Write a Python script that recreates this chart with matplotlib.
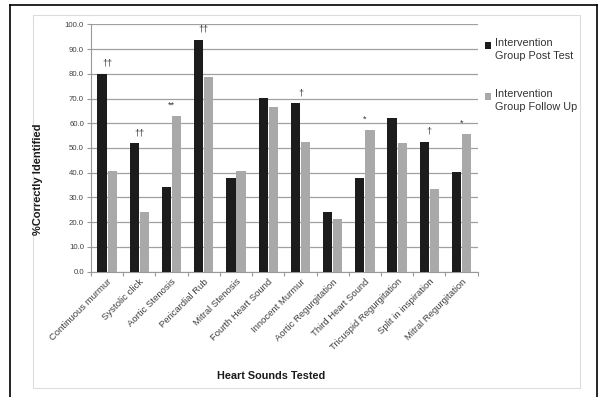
import matplotlib
matplotlib.use("Agg")
import matplotlib.pyplot as plt
from matplotlib.patches import Rectangle
from matplotlib.lines import Line2D
import numpy as np

categories = ["Continuous murmur", "Systolic click", "Aortic Stenosis", "Pericardial Rub",
              "Mitral Stenosis", "Fourth Heart Sound", "Innocent Murmur", "Aortic Regurgitation",
              "Third Heart Sound", "Tricuspid Regurgitation", "Split in inspiration",
              "Mitral Regurgitation"]
post_test = [79.9, 51.9, 34.3, 93.8, 37.8, 70.4, 68.1, 24.3, 37.8, 62.2, 52.6, 40.5]
follow_up = [40.7, 24.3, 63.0, 78.6, 40.7, 66.7, 52.6, 21.5, 57.3, 51.9, 33.3, 55.5]
markers = ["††", "††", "**", "††", "", "", "†", "", "*", "", "†", "*"]

series_names = ["Intervention\nGroup Post Test", "Intervention\nGroup Follow Up"]
colors = ["#1c1c1c", "#a9a9a9"]

plt.rcParams["font.family"] = ["Liberation Sans", "DejaVu Sans"]

fig = plt.figure(figsize=(5.98, 3.97), dpi=100)
W, H = 598, 397

# outer frame and chart-area border
fig.add_artist(Line2D([10 / W, 10 / W], [0, 1 - 5 / H], color="black", lw=1.2))
fig.add_artist(Line2D([10 / W, 597 / W], [1 - 5 / H, 1 - 5 / H], color="black", lw=1.2))
fig.add_artist(Line2D([597 / W, 597 / W], [0, 1 - 5 / H], color="black", lw=1.2))
fig.add_artist(Rectangle((33 / W, 1 - 388 / H), (580 - 33) / W, (388 - 15) / H,
                         fill=False, ec="#dcdcdc", lw=0.8))

ax = fig.add_axes([91 / W, 1 - 271.7 / H, (477.7 - 91) / W, (271.7 - 24.3) / H])

x = np.arange(len(categories))
bw = 0.285
ax.bar(x - bw / 2 - 0.015, post_test, width=bw, color=colors[0], zorder=3)
ax.bar(x + bw / 2 + 0.015, follow_up, width=bw, color=colors[1], zorder=3)

for xi, a, b, m in zip(x, post_test, follow_up, markers):
    if m:
        ax.text(xi, max(a, b) + 2.5, m, ha="center", va="bottom", fontsize=6.5, color="#333333")

ax.set_xlim(-0.5, len(categories) - 0.5)
ax.set_ylim(0, 100)
ax.set_yticks(np.arange(0, 101, 10))
ax.set_yticklabels([f"{v:.1f}" for v in np.arange(0, 101, 10)], fontsize=5.6, color="#404040")
ax.yaxis.grid(True, color="#a0a0a0", lw=0.9, zorder=0)
ax.set_axisbelow(True)

ax.set_xticks(x)
ax.set_xticklabels(categories, rotation=45, ha="right", rotation_mode="anchor",
                   fontsize=6.8, color="#404040")
ax.tick_params(axis="x", length=0, pad=4)
ax.set_xticks(np.arange(-0.5, len(categories), 1), minor=True)
ax.tick_params(axis="x", which="minor", length=3, color="#999999", width=0.8)
ax.tick_params(axis="y", length=3, color="#999999", width=0.8, pad=2)

for s in ["top", "right"]:
    ax.spines[s].set_visible(False)
ax.spines["left"].set_color("#999999")
ax.spines["bottom"].set_color("#999999")

fig.text(38 / W, 1 - 179 / H, "%Correctly Identified", fontsize=8, fontweight="bold",
         rotation=90, ha="center", va="center", color="#1a1a1a")
fig.text(271 / W, 1 - 376 / H, "Heart Sounds Tested", fontsize=7.8, fontweight="bold",
         ha="center", va="center", color="#1a1a1a")

# legend drawn by hand so each swatch sits beside the first line of its label
for i, (name, c) in enumerate(zip(series_names, colors)):
    y0 = 42.5 + i * 51
    fig.add_artist(Rectangle((485 / W, 1 - (y0 + 6) / H), 6 / W, 6 / H, fc=c, ec="none"))
    fig.text(495 / W, 1 - (y0 - 4.5) / H, name, fontsize=7.8, color="#333333",
             ha="left", va="top", linespacing=1.35)

fig.savefig("out.png", dpi=100)
